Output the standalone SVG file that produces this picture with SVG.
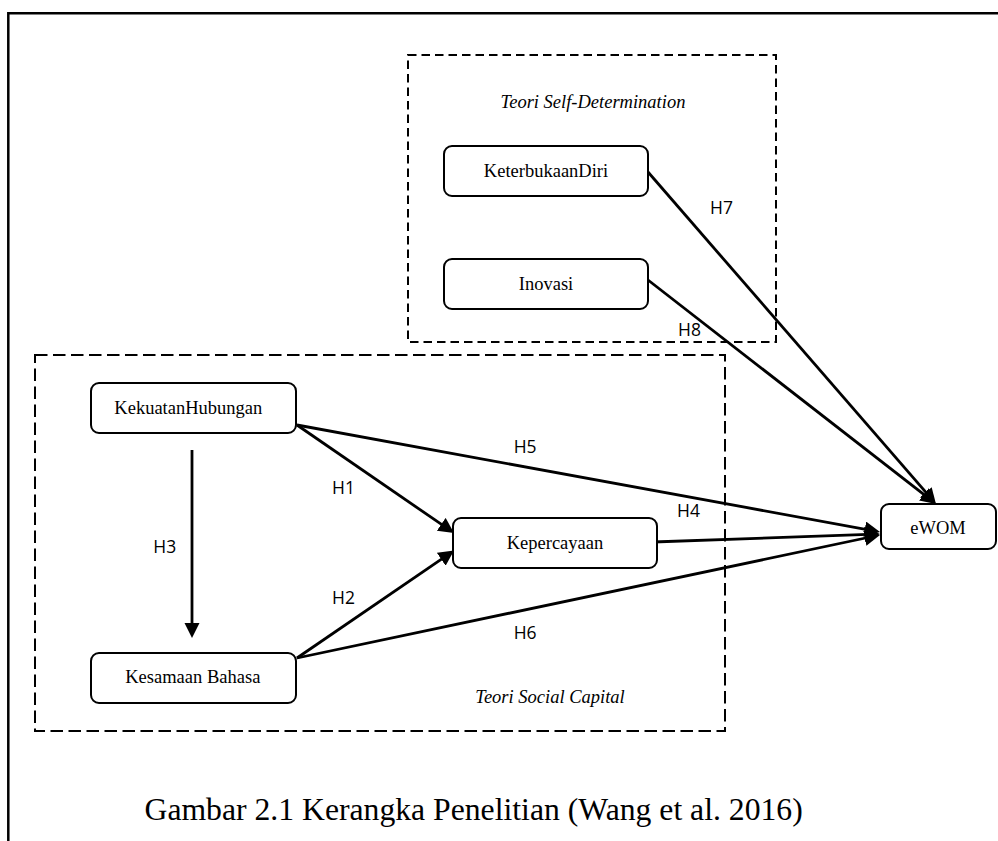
<svg xmlns="http://www.w3.org/2000/svg" width="998" height="841" viewBox="0 0 998 841">
<style>
.frame{fill:none;stroke:#000;stroke-width:2.5}
.grp1{fill:none;stroke:#000;stroke-width:2;stroke-dasharray:8.5 5}
.grp2{fill:none;stroke:#000;stroke-width:2;stroke-dasharray:12.5 5.5}
.node rect{fill:#fff;stroke:#000;stroke-width:2}
.node text,.title{font-family:"Liberation Serif","Times New Roman",serif;font-size:18.5px;fill:#000;text-anchor:middle}
.title{font-style:italic}
.lbl{font-family:"Open Sans","Noto Sans",sans-serif;font-size:17.5px;fill:#000}
.edge{fill:none;stroke:#000;stroke-width:2.8;marker-end:url(#arr)}
.caption{font-family:"Liberation Serif","Times New Roman",serif;font-size:31.7px;fill:#000}
</style>
<defs>
<marker id="arr" markerUnits="userSpaceOnUse" markerWidth="18" markerHeight="18" refX="10.5" refY="7.75" orient="auto">
<path d="M0,0 L15.5,7.75 L0,15.5 z" fill="#000"/>
</marker>
</defs>
<rect width="998" height="841" fill="#fff"/>
<path class="frame" d="M8.3,841 L8.3,13.3 L998,13.3"/>
<g id="group-self-determination">
<rect class="grp1" x="408" y="55" width="368" height="287"/>
<text class="title" x="593" y="108.3">Teori Self-Determination</text>
</g>
<g id="group-social-capital">
<rect class="grp2" x="35" y="355" width="690" height="376"/>
<text class="title" x="550" y="702.5">Teori Social Capital</text>
</g>
<g id="connectors">
<line class="edge" x1="192" y1="450" x2="192" y2="633"/>
<line class="edge" x1="297" y1="425" x2="449.9" y2="530.2"/>
<line class="edge" x1="297" y1="658" x2="449.9" y2="553.3"/>
<line class="edge" x1="297" y1="425" x2="875.1" y2="531.1"/>
<line class="edge" x1="653" y1="542" x2="875" y2="534.2"/>
<line class="edge" x1="297" y1="658" x2="875.1" y2="536"/>
<line class="edge" x1="648" y1="172" x2="932.7" y2="500.2"/>
<line class="edge" x1="648" y1="280" x2="932.1" y2="500.9"/>
<text class="lbl" x="332" y="494">H1</text>
<text class="lbl" x="332" y="604">H2</text>
<text class="lbl" x="153.3" y="553">H3</text>
<text class="lbl" x="677" y="517">H4</text>
<text class="lbl" x="513.7" y="453">H5</text>
<text class="lbl" x="513.7" y="639">H6</text>
<text class="lbl" x="710" y="214">H7</text>
<text class="lbl" x="678" y="336">H8</text>
</g>
<g id="keterbukaan-diri" class="node">
<rect x="444" y="146" width="204" height="50" rx="8"/>
<text x="546" y="176.7">KeterbukaanDiri</text>
</g>
<g id="inovasi" class="node">
<rect x="444" y="259" width="204" height="50" rx="8"/>
<text x="546" y="290">Inovasi</text>
</g>
<g id="kekuatan-hubungan" class="node">
<rect x="91" y="383" width="205" height="50" rx="8"/>
<text x="188.3" y="414">KekuatanHubungan</text>
</g>
<g id="kesamaan-bahasa" class="node">
<rect x="91" y="653" width="205" height="50" rx="8"/>
<text x="192.8" y="683.3">Kesamaan Bahasa</text>
</g>
<g id="kepercayaan" class="node">
<rect x="453" y="518" width="204" height="50" rx="8"/>
<text x="555" y="549.3">Kepercayaan</text>
</g>
<g id="ewom" class="node">
<rect x="881" y="504" width="115" height="45" rx="8"/>
<text x="938" y="534">eWOM</text>
</g>
<text class="caption" x="144.5" y="820">Gambar 2.1 Kerangka Penelitian (Wang et al. 2016)</text>
</svg>
